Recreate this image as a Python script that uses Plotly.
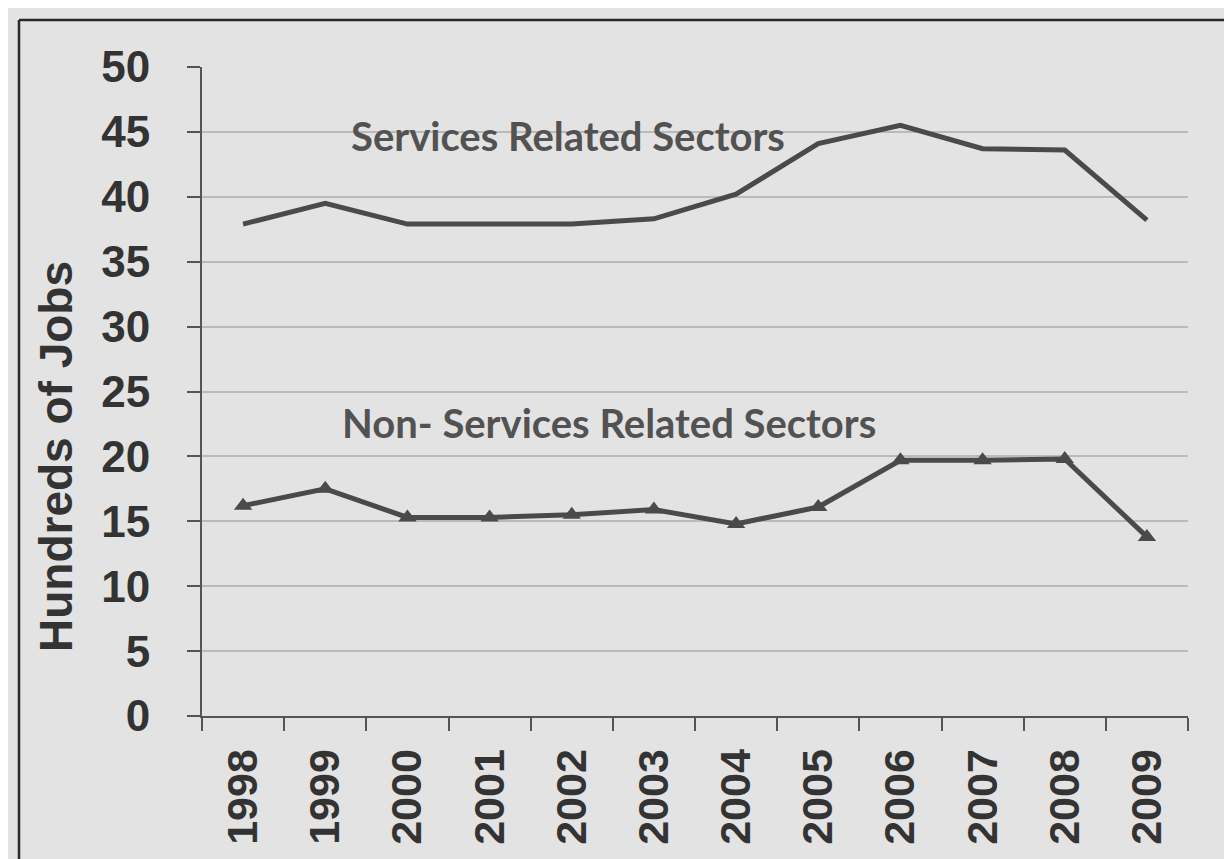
import plotly.graph_objects as go

years = ["1998", "1999", "2000", "2001", "2002", "2003", "2004", "2005", "2006", "2007", "2008", "2009"]
services = [37.9, 39.5, 37.9, 37.9, 37.9, 38.3, 40.2, 44.1, 45.5, 43.7, 43.6, 38.2]
non_services = [16.2, 17.5, 15.3, 15.3, 15.5, 15.9, 14.8, 16.1, 19.7, 19.7, 19.8, 13.8]
y_ticks = [0, 5, 10, 15, 20, 25, 30, 35, 40, 45, 50]

line_color = "#4a4a4a"
bg = "#e3e3e3"

fig = go.Figure()
fig.add_trace(go.Scatter(
    x=years, y=services, mode="lines", name="Services Related Sectors",
    line=dict(color=line_color, width=5), showlegend=False,
))
fig.add_trace(go.Scatter(
    x=years, y=non_services, mode="lines+markers", name="Non- Services Related Sectors",
    line=dict(color=line_color, width=5),
    marker=dict(symbol="triangle-up", size=16, color=line_color),
    showlegend=False,
))

fig.add_annotation(x=3.95, y=44.7, xref="x", yref="y", text="Services Related Sectors",
                   showarrow=False,
                   font=dict(family="Lato", size=40, color="#525252", weight="bold"),
                   xanchor="center", yanchor="middle")
fig.add_annotation(x=4.45, y=22.6, xref="x", yref="y", text="Non- Services Related Sectors",
                   showarrow=False,
                   font=dict(family="Lato", size=40, color="#525252", weight="bold"),
                   xanchor="center", yanchor="middle")

# plot area in pixels
L, R, T, B = 194, 1180, 59, 708
def px(xp):
    return (xp - L) / (R - L)
def py(yp):
    return (B - yp) / (B - T)

# y-axis title placed as rotated text (it sits low in the original)
fig.add_annotation(x=px(48), y=py(449), xref="paper", yref="paper",
                   text="Hundreds of Jobs", textangle=-90, showarrow=False,
                   font=dict(family="Liberation Sans", size=46, color="#333333", weight="bold"),
                   xanchor="center", yanchor="middle")

# scanned page frame (left and top edges)
fig.add_shape(type="line", xref="paper", yref="paper",
              x0=px(11), x1=px(11), y0=py(870), y1=py(12),
              line=dict(color="#2a2a2a", width=2.5))
fig.add_shape(type="line", xref="paper", yref="paper",
              x0=px(11), x1=px(1240), y0=py(12), y1=py(12),
              line=dict(color="#2a2a2a", width=2.5))

fig.update_layout(
    width=1232, height=859,
    margin=dict(l=L, r=1232 - R, t=T, b=859 - B),
    paper_bgcolor=bg, plot_bgcolor=bg,
    font=dict(family="Liberation Sans", color="#333333"),
    showlegend=False,
)
fig.update_xaxes(
    type="category", categoryorder="array", categoryarray=years,
    range=[-0.5, 11.5], tickson="boundaries",
    ticks="outside", ticklen=13, tickwidth=2, tickcolor="#555555",
    showline=True, linecolor="#555555", linewidth=2,
    showgrid=False, tickangle=-90,
    tickfont=dict(family="Liberation Sans", size=43, color="#333333", weight="bold"),
    ticklabelstandoff=14,
)
fig.update_yaxes(
    range=[0, 50], tickmode="array", tickvals=y_ticks,
    ticks="outside", ticklen=13, tickwidth=2, tickcolor="#555555",
    showline=True, linecolor="#555555", linewidth=2,
    showgrid=True, gridcolor="#bababa", gridwidth=1.5,
    zeroline=False,
    tickfont=dict(family="Liberation Sans", size=44, color="#333333", weight="bold"),
    ticklabelstandoff=28,
)

fig.write_html("out.html")
